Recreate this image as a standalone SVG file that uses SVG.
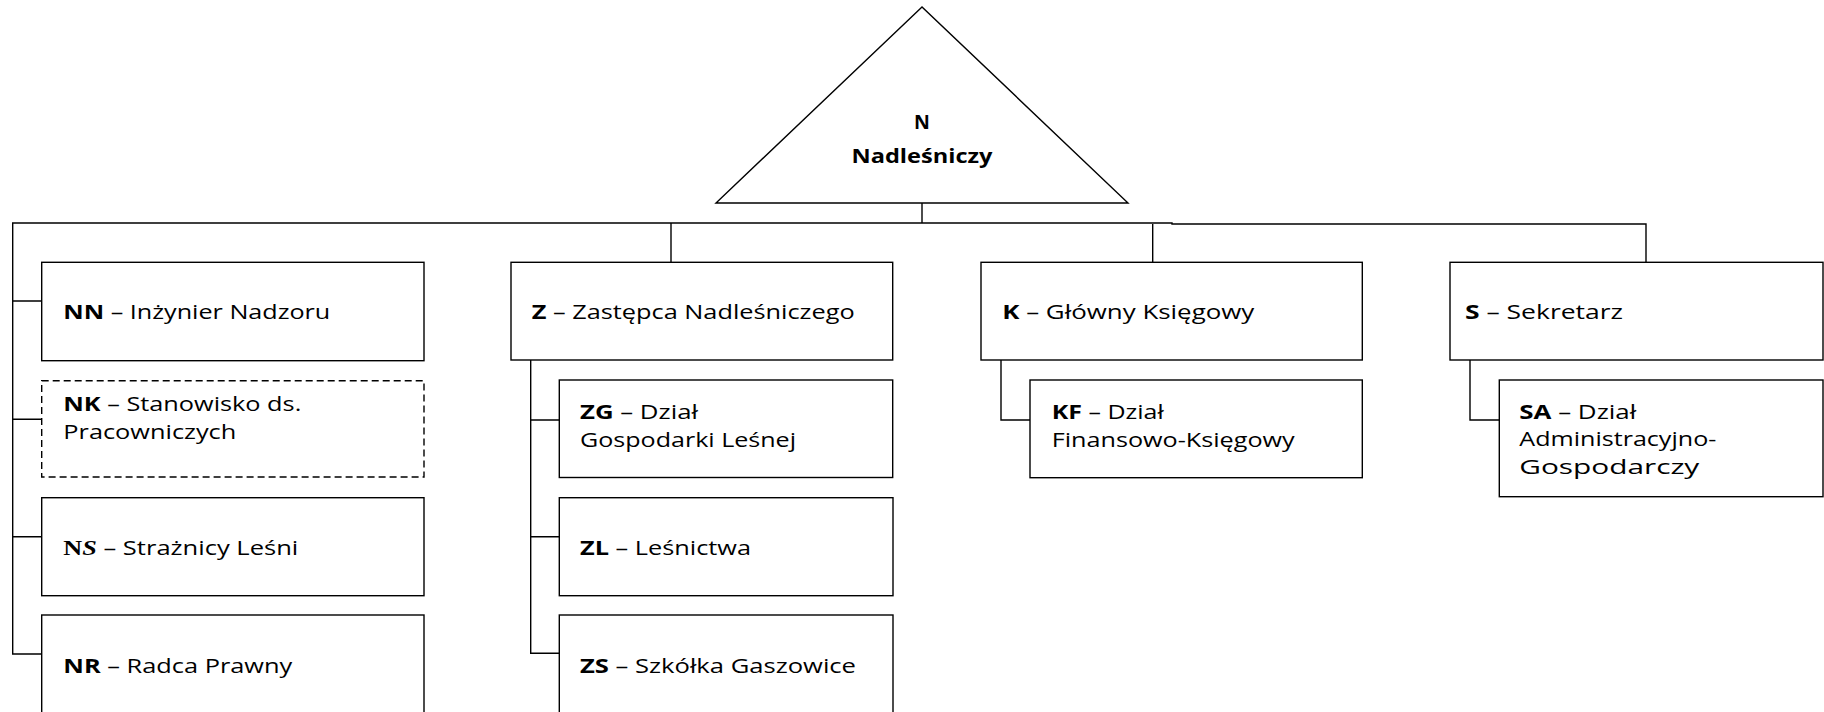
<svg xmlns="http://www.w3.org/2000/svg" width="1824" height="712" viewBox="0 0 1824 712">
<style>
  .box{fill:#fff;stroke:#000;stroke-width:1.4}
  .dash{fill:#fff;stroke:#000;stroke-width:1.4;stroke-dasharray:7 4}
  .ln{fill:none;stroke:#000;stroke-width:1.4}
  text{font-family:"Open Sans","Noto Sans","Liberation Sans",sans-serif;font-size:19.5px;fill:#000}
  .b{font-weight:bold}
  .ser{font-family:"Liberation Serif",serif;font-weight:bold;font-size:20px}
</style>
<rect width="1824" height="712" fill="#fff"/>
<g id="connectors">
  <path class="ln" d="M922 203 V223"/>
  <path class="ln" d="M1646 262.3 V224 H1172 V223 H12.7 V654 H41.7"/>
  <path class="ln" d="M12.7 301 H41.7 M12.7 419.3 H41.7 M12.7 536.7 H41.7"/>
  <path class="ln" d="M671 223 V262.3"/>
  <path class="ln" d="M530.7 360 V653.3 H559.3 M530.7 420 H559.3 M530.7 536.7 H559.3"/>
  <path class="ln" d="M1152.7 224 V262.3"/>
  <path class="ln" d="M1001 360 V420 H1030"/>
  <path class="ln" d="M1470 360 V420 H1499.3"/>
</g>
<g id="N">
  <polygon class="box" points="922,7 716,203 1128,203"/>
  <text class="b" x="922" y="128.5" text-anchor="middle">N</text>
  <text class="b" x="922" y="162.5" text-anchor="middle" textLength="141" lengthAdjust="spacingAndGlyphs">Nadleśniczy</text>
</g>
<g id="NN">
  <rect class="box" x="41.7" y="262.3" width="382.3" height="98.4"/>
  <text x="63.3" y="319" textLength="267" lengthAdjust="spacingAndGlyphs"><tspan class="b">NN</tspan> – Inżynier Nadzoru</text>
</g>
<g id="NK">
  <rect class="dash" x="41.7" y="380.7" width="382.3" height="96.3"/>
  <text x="63.3" y="411" textLength="238" lengthAdjust="spacingAndGlyphs"><tspan class="b">NK</tspan> – Stanowisko ds.</text>
  <text x="63.3" y="439" textLength="173" lengthAdjust="spacingAndGlyphs">Pracowniczych</text>
</g>
<g id="NS">
  <rect class="box" x="41.7" y="497.7" width="382.3" height="98"/>
  <text x="63.3" y="554.5" textLength="235" lengthAdjust="spacingAndGlyphs"><tspan class="ser">N</tspan><tspan class="ser" font-style="italic">S</tspan> – Strażnicy Leśni</text>
</g>
<g id="NR">
  <rect class="box" x="41.7" y="615" width="382.3" height="110"/>
  <text x="63.3" y="672.5" textLength="229" lengthAdjust="spacingAndGlyphs"><tspan class="b">NR</tspan> – Radca Prawny</text>
</g>
<g id="Z">
  <rect class="box" x="511" y="262.3" width="381.7" height="97.7"/>
  <text x="531.7" y="319" textLength="323" lengthAdjust="spacingAndGlyphs"><tspan class="b">Z</tspan> – Zastępca Nadleśniczego</text>
</g>
<g id="ZG">
  <rect class="box" x="559.3" y="380" width="333.4" height="97.5"/>
  <text x="580" y="418.5" textLength="118" lengthAdjust="spacingAndGlyphs"><tspan class="b">ZG</tspan> – Dział</text>
  <text x="580" y="446.5" textLength="216" lengthAdjust="spacingAndGlyphs">Gospodarki Leśnej</text>
</g>
<g id="ZL">
  <rect class="box" x="559.3" y="497.7" width="333.7" height="98"/>
  <text x="580" y="555" textLength="171" lengthAdjust="spacingAndGlyphs"><tspan class="b">ZL</tspan> – Leśnictwa</text>
</g>
<g id="ZS">
  <rect class="box" x="559.3" y="615" width="333.7" height="110"/>
  <text x="580" y="672.5" textLength="276" lengthAdjust="spacingAndGlyphs"><tspan class="b">ZS</tspan> – Szkółka Gaszowice</text>
</g>
<g id="K">
  <rect class="box" x="981" y="262.3" width="381.3" height="97.7"/>
  <text x="1002.3" y="319" textLength="252" lengthAdjust="spacingAndGlyphs"><tspan class="b">K</tspan> – Główny Księgowy</text>
</g>
<g id="KF">
  <rect class="box" x="1030" y="380" width="332.3" height="97.7"/>
  <text x="1051.7" y="418.5" textLength="112" lengthAdjust="spacingAndGlyphs"><tspan class="b">KF</tspan> – Dział</text>
  <text x="1051.7" y="446.5" textLength="243" lengthAdjust="spacingAndGlyphs">Finansowo-Księgowy</text>
</g>
<g id="S">
  <rect class="box" x="1450" y="262.3" width="373" height="97.7"/>
  <text x="1465" y="319" textLength="158" lengthAdjust="spacingAndGlyphs"><tspan class="b">S</tspan> – Sekretarz</text>
</g>
<g id="SA">
  <rect class="box" x="1499.3" y="380" width="323.7" height="116.7"/>
  <text x="1519.3" y="418.5" textLength="117" lengthAdjust="spacingAndGlyphs"><tspan class="b">SA</tspan> – Dział</text>
  <text x="1519.3" y="446" textLength="197" lengthAdjust="spacingAndGlyphs">Administracyjno-</text>
  <text x="1519.3" y="473.5" textLength="180" lengthAdjust="spacingAndGlyphs">Gospodarczy</text>
</g>
</svg>
